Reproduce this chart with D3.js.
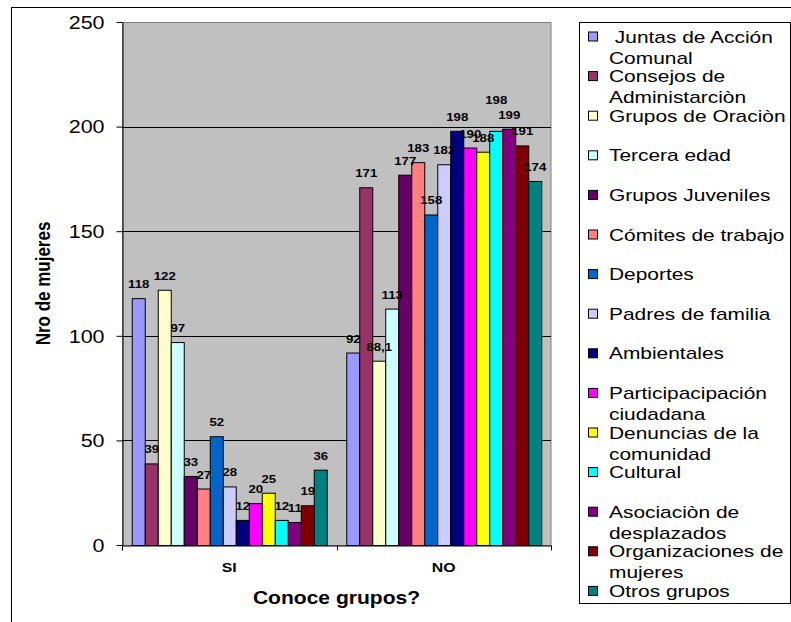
<!DOCTYPE html>
<html>
<head>
<meta charset="utf-8">
<script src="https://cdn.jsdelivr.net/npm/d3@7"></script>
<style>
  html, body { margin: 0; padding: 0; background: #fff; }
  svg { display: block; }
  text { font-family: "Liberation Sans", Arial, sans-serif; white-space: pre; }
</style>
</head>
<body>
<div id="chart"></div>
<script>
// ---------------- data ----------------
const categories = ["SI", "NO"];
const seriesNames = [
  " Juntas de Acción Comunal",
  "Consejos de Administarciòn",
  "Grupos de Oraciòn",
  "Tercera edad",
  "Grupos Juveniles",
  "Cómites de trabajo",
  "Deportes",
  "Padres de familia",
  "Ambientales",
  "Participacipación ciudadana",
  "Denuncias de la comunidad",
  "Cultural",
  "Asociaciòn de desplazados",
  "Organizaciones de mujeres",
  "Otros grupos"
];
const valuesSI = [118, 39, 122, 97, 33, 27, 52, 28, 12, 20, 25, 12, 11, 19, 36];
const valuesNO = [92, 171, 88.1, 113, 177, 183, 158, 182, 198, 190, 188, 198, 199, 191, 174];
const seriesColors = [
  "#9999FF", "#993366", "#FFFFCC", "#CCFFFF", "#660066",
  "#FF8080", "#0066CC", "#CCCCFF", "#000080", "#FF00FF",
  "#FFFF00", "#00FFFF", "#800080", "#800000", "#008080"
];
const yTicks = [0, 50, 100, 150, 200, 250];
const yTitle = "Nro de mujeres";
const xTitle = "Conoce grupos?";

// ---------------- layout ----------------
const W = 791, H = 622;
const SX = 1.22; // horizontal stretch of the original rendering
const plot = { left: 122, right: 551, top: 22, bottom: 545 };

const svg = d3.select("#chart").append("svg").attr("width", W).attr("height", H);

// outer chart border (only left and top visible)
svg.append("rect")
  .attr("x", 11.5).attr("y", 7.5).attr("width", W + 10).attr("height", H + 10)
  .attr("fill", "none").attr("stroke", "#000").attr("stroke-width", 1);

const y = d3.scaleLinear().domain([0, 250]).range([plot.bottom, plot.top]);
const x0 = d3.scaleBand().domain(categories).range([plot.left, plot.right]).padding(0);
const x1 = d3.scaleBand().domain(d3.range(seriesNames.length))
  .range([0, x0.bandwidth()]).paddingInner(0).paddingOuter(0.75);

// plot area
svg.append("rect")
  .attr("x", plot.left + 0.5).attr("y", plot.top + 0.5)
  .attr("width", plot.right - plot.left - 0.5).attr("height", plot.bottom - plot.top)
  .attr("fill", "#C0C0C0").attr("stroke", "#808080").attr("stroke-width", 1);

// gridlines
svg.append("g").selectAll("line")
  .data(yTicks.filter(t => t > 0 && t < 250))
  .join("line")
  .attr("x1", plot.left).attr("x2", plot.right)
  .attr("y1", d => Math.round(y(d)) + 0.5).attr("y2", d => Math.round(y(d)) + 0.5)
  .attr("stroke", "#000").attr("stroke-width", 1);

// bars
const table = categories.map((c, ci) => ({
  cat: c,
  vals: (ci === 0 ? valuesSI : valuesNO).map((v, si) => ({ cat: c, si, v }))
}));

const groups = svg.append("g").selectAll("g")
  .data(table).join("g")
  .attr("transform", d => `translate(${x0(d.cat)},0)`);

groups.selectAll("rect")
  .data(d => d.vals).join("rect")
  .attr("x", d => x1(d.si) + 0.5)
  .attr("y", d => y(d.v) + 0.5)
  .attr("width", x1.bandwidth())
  .attr("height", d => y(0) - y(d.v))
  .attr("fill", d => seriesColors[d.si])
  .attr("stroke", "#000").attr("stroke-width", 1);

// value labels
const fmt = v => String(v).replace(".", ",");
const lift = d => (d.cat === "NO" && seriesNames[d.si] === "Cultural") ? 17 : 0;
groups.selectAll("text")
  .data(d => d.vals).join("text")
  .attr("transform", d => `translate(${x1(d.si) + x1.bandwidth() / 2 + 0.5},${y(d.v) - 10 - lift(d)}) scale(1.15,1)`)
  .attr("text-anchor", "middle")
  .attr("font-size", 11.5).attr("font-weight", "bold")
  .attr("fill", "#000")
  .text(d => fmt(d.v));

// y axis
const yAxis = svg.append("g")
  .attr("transform", `translate(${plot.left + 0.5},0)`)
  .call(d3.axisLeft(y).tickValues(yTicks).tickSize(6).tickSizeOuter(0).tickPadding(9));
yAxis.select(".domain").attr("stroke", "#000");
yAxis.selectAll(".tick line").attr("stroke", "#000");
yAxis.selectAll(".tick text")
  .attr("font-family", "'Liberation Sans', Arial, sans-serif")
  .attr("font-size", 18).attr("fill", "#000")
  .attr("dy", "0.35em")
  .attr("transform", `scale(${SX * 0.98},1)`);

// x axis
const xAxis = svg.append("g")
  .attr("transform", `translate(0,${plot.bottom + 0.5})`)
  .call(d3.axisBottom(x0).tickSize(0).tickSizeOuter(0).tickPadding(17));
xAxis.select(".domain").attr("stroke", "#000");
xAxis.selectAll(".tick text")
  .attr("font-family", "'Liberation Sans', Arial, sans-serif")
  .attr("font-size", 13).attr("font-weight", "bold").attr("fill", "#000")
  .attr("transform", `scale(${SX},1)`);
xAxis.selectAll(".boundary")
  .data(categories.map(c => x0(c)).concat([plot.right]))
  .join("line").attr("class", "boundary")
  .attr("x1", d => Math.round(d) + 0.5).attr("x2", d => Math.round(d) + 0.5)
  .attr("y1", 0).attr("y2", 5)
  .attr("stroke", "#000");

// axis titles
svg.append("text")
  .attr("transform", `translate(${(plot.left + plot.right) / 2},604) scale(1.17,1)`)
  .attr("text-anchor", "middle")
  .attr("font-size", 18).attr("font-weight", "bold").attr("fill", "#000")
  .text(xTitle);

svg.append("text")
  .attr("transform", `translate(50,${(plot.top + plot.bottom) / 2}) scale(${SX},1) rotate(-90)`)
  .attr("text-anchor", "middle")
  .attr("font-size", 17).attr("font-weight", "bold").attr("fill", "#000")
  .text(yTitle);

// legend
const legend = { x: 579, y: 22, w: 211, h: 581 };
svg.append("rect")
  .attr("x", legend.x + 0.5).attr("y", legend.y + 0.5)
  .attr("width", legend.w).attr("height", legend.h)
  .attr("fill", "#fff").attr("stroke", "#000").attr("stroke-width", 1);

const legFont = 17, legSX = 1.23, maxW = 181;
const firstBase = 42.5, step = 39.6, lineH = 21;
const measurer = svg.append("text").attr("font-size", legFont).attr("visibility", "hidden");
function wrap(str) {
  const words = str.split(/(?<=\S) /);
  const lines = [];
  let cur = "";
  for (const w of words) {
    const test = cur ? cur + " " + w : w;
    measurer.text(test);
    if (cur && measurer.node().getComputedTextLength() * legSX > maxW) {
      lines.push(cur); cur = w.trimStart();
    } else cur = test;
  }
  lines.push(cur);
  return lines;
}

const items = svg.append("g").selectAll("g")
  .data(seriesNames).join("g")
  .attr("transform", (d, i) => `translate(0,${firstBase + i * step})`);

items.append("rect")
  .attr("x", 588.5).attr("y", -10.5)
  .attr("width", 9).attr("height", 9)
  .attr("fill", (d, i) => seriesColors[i])
  .attr("stroke", "#000").attr("stroke-width", 1);

items.each(function(d) {
  const lines = wrap(d);
  d3.select(this).selectAll("text.lbl")
    .data(lines).join("text").attr("class", "lbl")
    .attr("transform", (l, k) => `translate(609,${k * lineH}) scale(${legSX},1)`)
    .attr("font-size", legFont).attr("fill", "#000")
    .text(l => l);
});
measurer.remove();
</script>
</body>
</html>
